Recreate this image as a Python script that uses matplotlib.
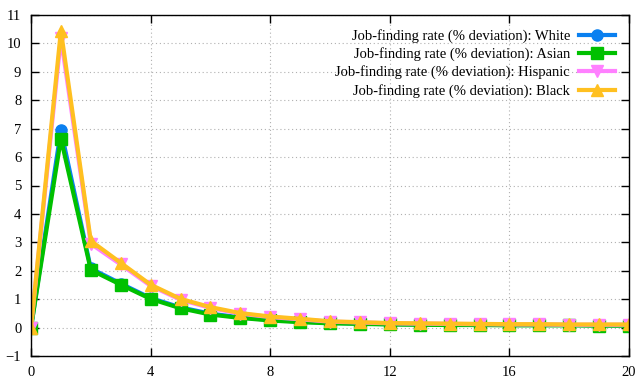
import numpy as np
import matplotlib.pyplot as plt

plt.rcParams['font.family'] = ['Liberation Serif', 'DejaVu Serif']

quarters = np.arange(0, 21)
white = [0, 6.95, 2.08, 1.55, 1.04, 0.71, 0.49, 0.36, 0.27, 0.21, 0.17,
         0.14, 0.12, 0.11, 0.10, 0.10, 0.09, 0.09, 0.09, 0.08, 0.08]
asian = [0, 6.65, 2.03, 1.51, 1.01, 0.68, 0.46, 0.34, 0.25, 0.19, 0.15,
         0.13, 0.11, 0.10, 0.09, 0.09, 0.08, 0.08, 0.08, 0.07, 0.07]
hispanic = [0, 10.2, 2.95, 2.22, 1.47, 0.98, 0.69, 0.49, 0.37, 0.29, 0.21,
            0.18, 0.15, 0.14, 0.13, 0.12, 0.11, 0.11, 0.10, 0.10, 0.10]
black = [0, 10.45, 3.05, 2.28, 1.51, 1.01, 0.72, 0.51, 0.39, 0.31, 0.22,
         0.19, 0.16, 0.15, 0.14, 0.13, 0.12, 0.12, 0.11, 0.11, 0.11]

series = [
    ("Job-finding rate (% deviation): White", white, '#0a80f0', 'o'),
    ("Job-finding rate (% deviation): Asian", asian, '#00c000', 's'),
    ("Job-finding rate (% deviation): Hispanic", hispanic, '#ff80ff', 'v'),
    ("Job-finding rate (% deviation): Black", black, '#ffc020', '^'),
]

fig = plt.figure(figsize=(6.39, 3.82), dpi=100)
ax = fig.add_axes([31 / 639, 1 - 356 / 382, 598 / 639, 341 / 382])

for label, vals, color, marker in series:
    ax.plot(quarters, vals, color=color, lw=3, marker=marker, ms=8,
            label=label)

ax.set_xlim(0, 20)
ax.set_ylim(-1, 11)
ax.set_xticks(np.arange(0, 21, 4))
ax.set_yticks(np.arange(-1, 12, 1))
ax.grid(True, color='#b0b0b0', linestyle=(0, (1, 2.5)), lw=0.8)
ax.tick_params(direction='in', top=True, right=True, labelsize=10.5,
               length=6, width=1, pad=7)
for s in ax.spines.values():
    s.set_linewidth(1.0)

leg = ax.legend(loc='upper right', frameon=False, markerfirst=False,
                fontsize=10.5, handlelength=2.5, labelspacing=0.3,
                borderaxespad=0.35, borderpad=0.6, handletextpad=0.6)
for t in leg.get_texts():
    t.set_ha('right')

fig.savefig('out.png', dpi=100)
